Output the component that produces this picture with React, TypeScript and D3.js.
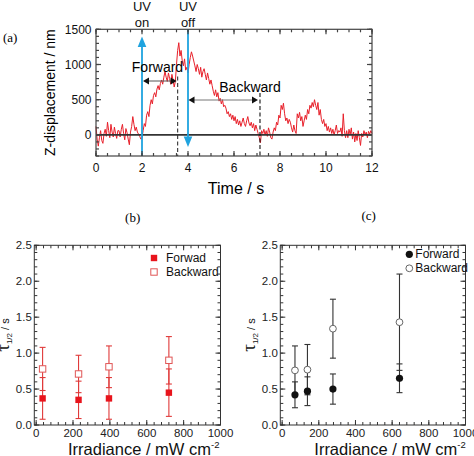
import React from "react";
import * as d3 from "d3";

const W = 474;
const H = 456;
const SANS = "'Liberation Sans', Arial, sans-serif";
const SERIF = "'Liberation Serif', 'Times New Roman', serif";

// ---------- Panel (a) data ----------
const sampleStep = 0.05; // s between samples
const zDisplacement = [
  120, -60, -160, -40, 60, -80, -120, 20, 80, -20, 180, 60, -40, 150, 40, -30, 110, 20, -50, 60,
  60, -30, 80, 150, 20, -70, 90, 30, -60, -140, 40, 120, 260, 150, 60, 110, 40, 10, -20, -60,
  -40, 60, 160, 120, 280, 330, 260, 420, 500, 440, 560, 600, 540, 650, 700, 640, 730, 780, 720, 820,
  900, 820, 760, 880, 800, 720, 860, 780, 680, 760, 1000, 1200, 1310, 1120, 1200, 1050, 980, 1080, 920, 960,
  880, 1000, 1100, 1180, 1120, 1050, 980, 900, 1000, 940, 860, 960, 820, 900, 940, 860, 780, 880, 800, 720,
  780, 700, 620, 560, 640, 540, 600, 480, 520, 440, 500, 400, 420, 380, 300, 330, 260, 300, 220, 280,
  200, 260, 160, 220, 140, 200, 120, 180, 240, 160, 120, 200, 260, 170, 130, 180, 100, 160, 60, 140,
  80, 20, -40, -110, 60, 20, 80, 0, 60, -20, 100, 40, -40, -60, 40, 100, 60, 180, 140, 280,
  240, 420, 360, 450, 300, 200, 240, 160, 220, 180, 100, 40, 140, 60, 20, 300, 240, 320, 200, 260,
  120, 200, 280, 220, 360, 300, 420, 380, 460, 400, 500, 420, 360, 460, 280, 360, 220, 160, 220, 120,
  160, 60, 120, 40, 100, 20, 80, 0, 60, 140, 20, 60, 40, 100, -20, 300, 60, -40, 60, -40,
  80, 0, 100, -60, 40, -100, 20, -80, 60, -40, -150, 20, -30, 60, 0, 40, -40, 50, 10, 60,
  20,
];
const timeTicks = [0, 2, 4, 6, 8, 10, 12];
const zTicks = [0, 500, 1000, 1500];
const uvOnTime = 2;
const uvOffTime = 4;
const forwardEndTime = 3.55;
const backwardEndTime = 7.13;

// ---------- Panel (b) data ----------
const irradianceB = [35, 230, 395, 720];
const forwardB = [0.37, 0.35, 0.37, 0.45];
const forwardErrB = [0.29, 0.26, 0.29, 0.33];
const backwardB = [0.78, 0.71, 0.81, 0.9];
const backwardErrB = [0.3, 0.26, 0.29, 0.33];

// ---------- Panel (c) data ----------
const irradianceC = [70, 138, 277, 640];
const forwardC = [0.42, 0.47, 0.5, 0.65];
const forwardErrC = [0.18, 0.2, 0.21, 0.2];
const backwardC = [0.76, 0.77, 1.34, 1.43];
const backwardErrC = [0.34, 0.35, 0.41, 0.67];

const irrTicks = [0, 200, 400, 600, 800, 1000];
const tauTicks = [0, 0.5, 1, 1.5, 2, 2.5];

type Lin = d3.ScaleLinear<number, number>;

function Frame({
  xs, ys, xMajor, xMinor, yMajor, yMinor, color = "#333", width = 1,
}: {
  xs: Lin; ys: Lin; xMajor: number[]; xMinor: number[]; yMajor: number[]; yMinor: number[];
  color?: string; width?: number;
}) {
  const [x0, x1] = xs.range();
  const [y0, y1] = ys.range(); // y0 bottom, y1 top
  const maj = 5;
  const min = 3;
  const els: React.ReactNode[] = [];
  xMinor.forEach((v, i) => {
    const x = xs(v);
    els.push(<line key={"xb" + i} x1={x} x2={x} y1={y0} y2={y0 - min} />);
    els.push(<line key={"xt" + i} x1={x} x2={x} y1={y1} y2={y1 + min} />);
  });
  xMajor.forEach((v, i) => {
    const x = xs(v);
    els.push(<line key={"xB" + i} x1={x} x2={x} y1={y0} y2={y0 - maj} />);
    els.push(<line key={"xT" + i} x1={x} x2={x} y1={y1} y2={y1 + maj} />);
  });
  yMinor.forEach((v, i) => {
    const y = ys(v);
    els.push(<line key={"yl" + i} x1={x0} x2={x0 + min} y1={y} y2={y} />);
    els.push(<line key={"yr" + i} x1={x1} x2={x1 - min} y1={y} y2={y} />);
  });
  yMajor.forEach((v, i) => {
    const y = ys(v);
    els.push(<line key={"yL" + i} x1={x0} x2={x0 + maj} y1={y} y2={y} />);
    els.push(<line key={"yR" + i} x1={x1} x2={x1 - maj} y1={y} y2={y} />);
  });
  return (
    <g stroke={color} strokeWidth={width} fill="none">
      {els}
      <rect x={x0} y={y1} width={x1 - x0} height={y0 - y1} />
    </g>
  );
}

function PanelA() {
  const xs = d3.scaleLinear().domain([0, 12]).range([96, 372]);
  const ys = d3.scaleLinear().domain([-300, 1500]).range([156, 29.3]);
  const line = d3
    .line<number>()
    .x((_, i) => xs(i * sampleStep))
    .y((d) => ys(d));
  const cyan = "#1fa3df";
  const xOn = xs(uvOnTime);
  const xOff = xs(uvOffTime);
  const [yb, yt] = ys.range();
  const fY = 81;
  const bY = 100;
  const head = (tipX: number, y: number, dir: number) =>
    `M${tipX},${y} L${tipX - dir * 6},${y - 3.5} L${tipX - dir * 6},${y + 3.5} Z`;
  return (
    <g>
      <text x={3} y={42} fontFamily={SERIF} fontSize={13}>(a)</text>
      <path d={line(zDisplacement) || ""} fill="none" stroke="#e8202a" strokeWidth={1} />
      <line x1={xs(0)} x2={xs(12)} y1={ys(0)} y2={ys(0)} stroke="#333" strokeWidth={1.6} />
      {/* dashed end markers */}
      <line x1={xs(forwardEndTime)} x2={xs(forwardEndTime)} y1={76.5} y2={yb} stroke="#333" strokeWidth={1.1} strokeDasharray="4,2.5" />
      <line x1={xs(backwardEndTime)} x2={xs(backwardEndTime)} y1={93} y2={yb} stroke="#111" strokeWidth={1.1} strokeDasharray="4,2.5" />
      {/* UV on arrow */}
      <line x1={xOn} x2={xOn} y1={yb} y2={46} stroke={cyan} strokeWidth={1.8} />
      <path d={`M${xOn},36.5 L${xOn - 4.3},47 L${xOn + 4.3},47 Z`} fill={cyan} />
      {/* UV off arrow */}
      <line x1={xOff} x2={xOff} y1={yt} y2={137} stroke={cyan} strokeWidth={1.8} />
      <path d={`M${xOff},147 L${xOff - 4.3},136.5 L${xOff + 4.3},136.5 Z`} fill={cyan} />
      {/* Forward double arrow */}
      <line x1={xOn + 6} x2={xs(forwardEndTime) - 6} y1={fY} y2={fY} stroke="#555" strokeWidth={1} />
      <path d={head(xOn + 1, fY, -1)} fill="#111" />
      <path d={head(xs(forwardEndTime) - 1, fY, 1)} fill="#111" />
      <text x={157.5} y={71.5} textAnchor="middle" fontFamily={SANS} fontSize={14}>Forward</text>
      {/* Backward double arrow */}
      <line x1={xOff + 6} x2={xs(backwardEndTime) - 8} y1={bY} y2={bY} stroke="#777" strokeWidth={1} />
      <path d={head(xOff + 0.5, bY, -1)} fill="#111" />
      <path d={head(xs(backwardEndTime) - 2, bY, 1)} fill="#111" />
      <text x={250} y={91.5} textAnchor="middle" fontFamily={SANS} fontSize={14}>Backward</text>
      {/* UV labels */}
      <g fontFamily={SANS} fontSize={13} textAnchor="middle" fill="#111">
        <text x={xOn} y={11}>UV</text>
        <text x={xOn} y={26.5}>on</text>
        <text x={xOff} y={11}>UV</text>
        <text x={xOff} y={26.5}>off</text>
      </g>
      <Frame
        xs={xs}
        ys={ys}
        xMajor={timeTicks}
        xMinor={d3.range(0, 12.01, 0.5)}
        yMajor={zTicks}
        yMinor={d3.range(-300, 1501, 100)}
        color="#444"
        width={1.2}
      />
      <g fontFamily={SANS} fontSize={12} fill="#111">
        {timeTicks.map((t) => (
          <text key={t} x={xs(t)} y={171.5} textAnchor="middle">{t}</text>
        ))}
        {zTicks.map((v) => (
          <text key={v} x={91.5} y={ys(v) + 4.2} textAnchor="end">{v}</text>
        ))}
      </g>
      <text x={236} y={194} textAnchor="middle" fontFamily={SANS} fontSize={16}>Time / s</text>
      <text transform={`translate(55,${(yb + yt) / 2}) rotate(-90)`} textAnchor="middle" fontFamily={SANS} fontSize={14}>
        Z-displacement / nm
      </text>
    </g>
  );
}

function TauPanel({
  x0, x1, title, titleX, titleY, irr, fwd, fwdErr, bwd, bwdErr, kind, fwdLabel, legendX, legendY, xLabelX,
}: {
  x0: number; x1: number; title: string; titleX: number; titleY: number;
  irr: number[]; fwd: number[]; fwdErr: number[]; bwd: number[]; bwdErr: number[];
  kind: "square" | "circle"; fwdLabel: string; legendX: number; legendY: number; xLabelX: number;
}) {
  const xs = d3.scaleLinear().domain([-10, 1000]).range([x0, x1]);
  const ys = d3.scaleLinear().domain([0, 2.5]).range([425, 245.3]);
  const red = kind === "square";
  const barColor = red ? "#e03a3a" : "#333";
  const fwdColor = red ? "#e8141c" : "#111";
  const bwdColor = red ? "#e05555" : "#666";
  const cap = 3;
  const errBar = (x: number, v: number, e: number, key: string) => (
    <g key={key} stroke={barColor} strokeWidth={1.1}>
      <line x1={x} x2={x} y1={ys(v - e)} y2={ys(v + e)} />
      <line x1={x - cap} x2={x + cap} y1={ys(v - e)} y2={ys(v - e)} />
      <line x1={x - cap} x2={x + cap} y1={ys(v + e)} y2={ys(v + e)} />
    </g>
  );
  const marker = (cx: number, cy: number, filled: boolean, key: string) =>
    kind === "square" ? (
      <rect key={key} x={cx - 3.2} y={cy - 3.2} width={6.4} height={6.4}
        fill={filled ? fwdColor : "white"} stroke={filled ? fwdColor : bwdColor} strokeWidth={filled ? 0 : 1} />
    ) : (
      <circle key={key} cx={cx} cy={cy} r={filled ? 3.6 : 3.4}
        fill={filled ? fwdColor : "white"} stroke={filled ? fwdColor : bwdColor} strokeWidth={filled ? 0 : 1} />
    );
  return (
    <g>
      <text x={titleX} y={titleY} textAnchor="middle" fontFamily={SERIF} fontSize={13}>{title}</text>
      {irr.map((v, i) => errBar(xs(v), bwd[i], bwdErr[i], "be" + i))}
      {irr.map((v, i) => errBar(xs(v), fwd[i], fwdErr[i], "fe" + i))}
      {irr.map((v, i) => marker(xs(v), ys(bwd[i]), false, "bm" + i))}
      {irr.map((v, i) => marker(xs(v), ys(fwd[i]), true, "fm" + i))}
      <Frame
        xs={xs}
        ys={ys}
        xMajor={irrTicks}
        xMinor={d3.range(0, 1001, 40)}
        yMajor={tauTicks}
        yMinor={d3.range(0, 2.501, 0.1)}
        color="#333"
        width={1}
      />
      <g fontFamily={SANS} fontSize={11.5} fill="#222">
        {irrTicks.map((t) => (
          <text key={t} x={xs(t)} y={437} textAnchor="middle">{t}</text>
        ))}
        {tauTicks.map((v) => (
          <text key={v} x={x0 - 2.5} y={ys(v) + 4} textAnchor="end">{v.toFixed(1)}</text>
        ))}
      </g>
      {/* legend */}
      {marker(legendX, legendY, true, "lf")}
      {marker(legendX, legendY + 14, false, "lb")}
      <g fontFamily={SANS} fontSize={12} fill="#111">
        <text x={legendX + (kind === "square" ? 12 : 6)} y={legendY + 4}>{fwdLabel}</text>
        <text x={legendX + (kind === "square" ? 12 : 6)} y={legendY + 18}>Backward</text>
      </g>
      {/* axis labels */}
      <text x={xLabelX} y={455} fontFamily={SANS} fontSize={16.5} fill="#111">
        Irradiance / mW cm<tspan fontSize={9.5} dy={-7}>-2</tspan>
      </text>
      <text transform={`translate(${x0 - 25.8},335) rotate(-90)`} textAnchor="middle" fill="#111">
        <tspan fontFamily={SERIF} fontSize={19}>τ</tspan>
        <tspan fontFamily={SANS} fontSize={8} dy={3}>1/2</tspan>
        <tspan fontFamily={SANS} fontSize={11} dy={-3}> / s</tspan>
      </text>
    </g>
  );
}

export default function App() {
  return (
    <svg width={W} height={H} viewBox={`0 0 ${W} ${H}`} style={{ display: "block", position: "absolute", left: 0, top: 0, background: "white" }}>
      <rect x={0} y={0} width={W} height={H} fill="white" />
      <PanelA />
      <TauPanel
        x0={34.3} x1={220.5} title="(b)" titleX={132.7} titleY={221.5}
        irr={irradianceB} fwd={forwardB} fwdErr={forwardErrB} bwd={backwardB} bwdErr={backwardErrB}
        kind="square" fwdLabel="Forwad" legendX={154} legendY={258} xLabelX={68}
      />
      <TauPanel
        x0={280.3} x1={465.5} title="(c)" titleX={368.7} titleY={220}
        irr={irradianceC} fwd={forwardC} fwdErr={forwardErrC} bwd={backwardC} bwdErr={backwardErrC}
        kind="circle" fwdLabel="Forward" legendX={409.3} legendY={254.3} xLabelX={314.3}
      />
    </svg>
  );
}
